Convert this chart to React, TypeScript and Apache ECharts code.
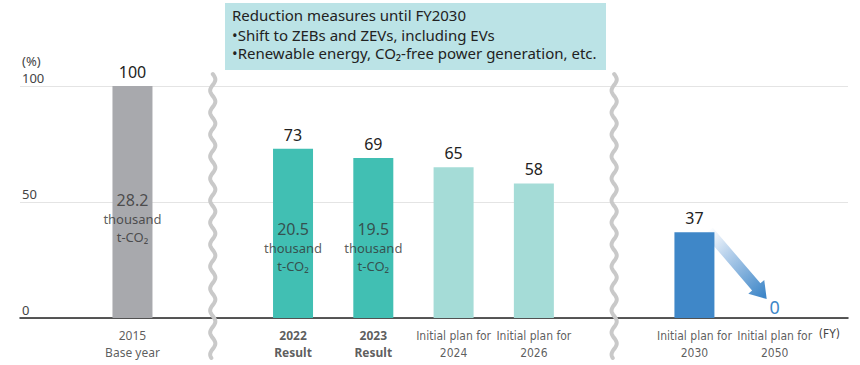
import React, { useEffect, useRef } from "react";
import * as echarts from "echarts";

// ---- data ----
const categories = [
  "2015\nBase year",
  "",
  "2022\nResult",
  "2023\nResult",
  "Initial plan for\n2024",
  "Initial plan for\n2026",
  "",
  "Initial plan for\n2030",
  "Initial plan for\n2050",
];
const barValues: (number | null)[] = [100, null, 73, 69, 65, 58, null, 37, 0];
const barColors: (string | null)[] = [
  "#a8a9ad",
  null,
  "#41bfb3",
  "#41bfb3",
  "#a5dcd7",
  "#a5dcd7",
  null,
  "#3f87c8",
  "#3f87c8",
];
const emissionIndex = [0, 2, 3];
const emissionValues = ["28.2", "20.5", "19.5"];
const emissionLabelLevel = [43, 30.5, 30.5];
const breakIndex = [1, 6];
const arrowFromTo = [[7, 37, 8, 0]];
const boldCategory = [2, 3];
const narrowCategory = [4, 5, 7, 8];
const unitLabel = "(%)";
const xUnitLabel = "(FY)";
const noteTitle = "Reduction measures until FY2030";
const noteLines = [
  "•Shift to ZEBs and ZEVs, including EVs",
  "•Renewable energy, CO₂-free power generation, etc.",
];

const FONT = "'Noto Sans', 'Open Sans', sans-serif";
const NARROW = "'DejaVu Sans Condensed', 'Roboto', sans-serif";

export default function App() {
  const ref = useRef<HTMLDivElement>(null);

  useEffect(() => {
    if (!ref.current) return;
    const chart = echarts.init(ref.current, undefined, { renderer: "svg" });

    const barData: any[] = [];
    barValues.forEach((v, i) => {
      if (v === null) return;
      const isZero = v === 0;
      barData.push({
        value: [i, v],
        itemStyle: { color: barColors[i] },
        label: isZero
          ? { color: "#3f87c8", fontSize: 18, distance: 2 }
          : undefined,
      });
    });

    const catData: any[] = [];
    categories.forEach((c, i) => {
      if (!c) return;
      const narrow = narrowCategory.includes(i);
      catData.push({
        value: [i, 0],
        name: c,
        label: {
          fontFamily: narrow ? NARROW : FONT,
          fontWeight: boldCategory.includes(i) ? "bold" : "normal",
          fontSize: 12,
        },
      });
    });

    const innerData = emissionIndex.map((idx, k) => ({
      value: [idx, emissionLabelLevel[k]],
      name: emissionValues[k],
    }));

    const noteGraphics = noteLines.map((t, k) => ({
      type: "text",
      left: 232,
      top: 27 + k * 18,
      style: { text: t, fontSize: 15, fill: "#222", fontFamily: FONT },
      z: 11,
    }));

    const option: any = {
      animation: false,
      textStyle: { fontFamily: FONT },
      grid: { left: 20, right: 12, top: 86, bottom: 47, containLabel: false },
      xAxis: {
        type: "value",
        min: -1.401,
        max: 8.913,
        axisLine: { show: true, onZero: true, lineStyle: { color: "#222", width: 1.5 } },
        axisTick: { show: false },
        axisLabel: { show: false },
        splitLine: { show: false },
      },
      yAxis: {
        type: "value",
        min: 0,
        max: 100,
        interval: 50,
        axisLine: { show: false },
        axisTick: { show: false },
        axisLabel: {
          inside: true,
          margin: 2,
          verticalAlign: "bottom",
          align: "left",
          color: "#444",
          fontSize: 13,
          padding: [0, 0, 2, 0],
        },
        splitLine: { lineStyle: { color: "#e4e4e4", width: 1 } },
      },
      graphic: [
        {
          type: "text",
          left: 22,
          top: 54,
          style: { text: unitLabel, fontSize: 13, fill: "#444", fontFamily: FONT },
        },
        {
          type: "rect",
          left: 225,
          top: 3,
          shape: { width: 381, height: 67 },
          style: { fill: "#bbe3e6" },
          z: 10,
        },
        {
          type: "text",
          left: 232,
          top: 7,
          style: { text: noteTitle, fontSize: 15, fill: "#222", fontFamily: FONT },
          z: 11,
        },
        ...noteGraphics,
        {
          type: "text",
          right: 20,
          top: 328,
          style: { text: xUnitLabel, fontSize: 12, fill: "#444", fontFamily: NARROW },
        },
      ],
      series: [
        {
          type: "custom",
          name: "break",
          clip: false,
          z: 1,
          silent: true,
          data: breakIndex.map((b) => [b]),
          encode: { x: 0 },
          renderItem: (params: any, api: any) => {
            const x = api.coord([api.value(0), 0])[0];
            const cs = params.coordSys;
            const top = cs.y - 12;
            const bottom = cs.y + cs.height + 40;
            const pts: number[][] = [];
            for (let y = top; y <= bottom; y += 1) {
              pts.push([x + 2.6 * Math.sin(((y - top) / 22) * 2 * Math.PI), y]);
            }
            return {
              type: "polyline",
              shape: { points: pts },
              style: { stroke: "#c9c9c9", lineWidth: 4, fill: null, lineCap: "round" },
            };
          },
        },
        {
          type: "custom",
          name: "arrow",
          clip: false,
          z: 1,
          silent: true,
          data: arrowFromTo,
          encode: { x: [0, 2], y: [1, 3] },
          renderItem: (params: any, api: any) => {
            const s = api.coord([api.value(0), api.value(1)]);
            const e = api.coord([api.value(2), api.value(3)]);
            const x0 = s[0] + 14;
            const y0 = s[1] - 1;
            const x1 = e[0] - 8;
            const y1 = e[1] - 19;
            const dx = x1 - x0;
            const dy = y1 - y0;
            const L = Math.hypot(dx, dy);
            const ux = dx / L;
            const uy = dy / L;
            const nx = -uy;
            const ny = ux;
            const hw = 5.5;
            const hh = 10.5;
            const hl = 16;
            const bx = x1 - ux * hl;
            const by = y1 - uy * hl;
            const points = [
              [x0 + nx * hw, y0 + ny * hw],
              [bx + nx * hw, by + ny * hw],
              [bx + nx * hh, by + ny * hh],
              [x1, y1],
              [bx - nx * hh, by - ny * hh],
              [bx - nx * hw, by - ny * hw],
              [x0 - nx * hw, y0 - ny * hw],
            ];
            return {
              type: "polygon",
              shape: { points },
              style: {
                fill: new echarts.graphic.LinearGradient(0.1, 0, 0.9, 1, [
                  { offset: 0, color: "rgba(255,255,255,0.95)" },
                  { offset: 0.35, color: "#b9d2ec" },
                  { offset: 1, color: "#3f87c8" },
                ]),
              },
            };
          },
        },
        {
          type: "bar",
          name: "emissions",
          barWidth: 40,
          z: 3,
          data: barData,
          label: {
            show: true,
            position: "top",
            distance: 6,
            fontSize: 16,
            color: "#222",
            formatter: (p: any) => String(p.value[1]),
          },
        },
        {
          type: "scatter",
          name: "amount",
          symbolSize: 0,
          z: 5,
          silent: true,
          data: innerData,
          label: {
            show: true,
            position: "inside",
            formatter: (p: any) => `{a|${p.name}}\n{b|thousand}\n{b|t-CO₂}`,
            rich: {
              a: { fontSize: 16, color: "#333", lineHeight: 19, fontFamily: FONT },
              b: { fontSize: 13, color: "#333", lineHeight: 18, fontFamily: FONT },
            },
          },
        },
        {
          type: "scatter",
          name: "categories",
          symbolSize: 0,
          z: 5,
          silent: true,
          data: catData,
          label: {
            show: true,
            position: "bottom",
            distance: 9,
            color: "#333",
            lineHeight: 17,
            align: "center",
            formatter: "{b}",
          },
        },
      ],
    };

    chart.setOption(option);
    return () => chart.dispose();
  }, []);

  return (
    <div
      ref={ref}
      style={{ position: "fixed", left: 0, top: 0, width: 860, height: 365, background: "#fff" }}
    />
  );
}
